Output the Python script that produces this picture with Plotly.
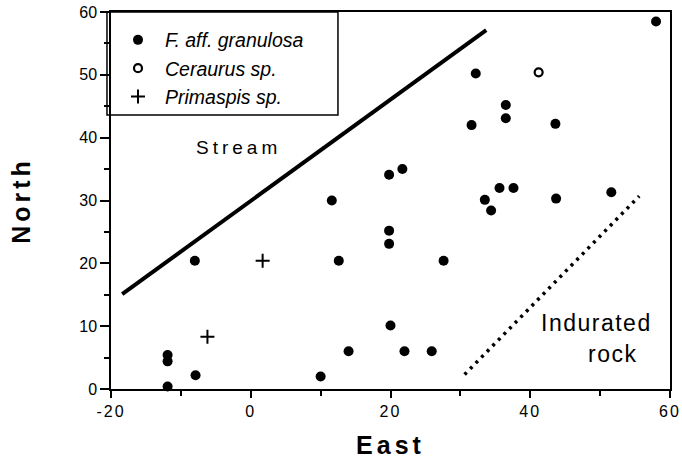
import plotly.graph_objects as go

# --- data ---
f_east = [58.0, 32.2, 36.5, 36.5, 31.6, 43.6, 19.8, 21.7, 11.6, 35.6, 37.6, 33.5,
          34.4, 43.7, 51.6, 19.8, 19.8, 12.6, 27.6, 20.0, 14.0, 22.0, 25.9, 10.0,
          -11.9, -11.9, -7.9, -11.9, -8.0]
f_north = [58.5, 50.2, 45.2, 43.1, 42.0, 42.2, 34.1, 35.0, 30.0, 32.0, 32.0, 30.1,
           28.4, 30.3, 31.3, 25.2, 23.1, 20.4, 20.4, 10.1, 6.0, 6.0, 6.0, 2.0,
           5.4, 4.4, 2.2, 0.4, 20.4]
c_east = [41.2]
c_north = [50.4]
p_east = [1.7, -6.2]
p_north = [20.4, 8.3]

stream_east = [-18.4, 33.7]
stream_north = [15.1, 57.1]
rock_east = [30.6, 55.6]
rock_north = [2.3, 30.7]

x_tickvals = [-20, 0, 20, 40, 60]
x_ticktext = ["-20", "0", "20", "40", "60"]
y_tickvals = [0, 10, 20, 30, 40, 50, 60]

FONT = "Liberation Sans, Arial, Helvetica, sans-serif"

fig = go.Figure()

fig.add_trace(go.Scatter(x=stream_east, y=stream_north, mode="lines",
                         line=dict(color="black", width=4), showlegend=False,
                         hoverinfo="skip"))
fig.add_trace(go.Scatter(x=rock_east, y=rock_north, mode="lines",
                         line=dict(color="black", width=3.5, dash="3px,5px"),
                         showlegend=False, hoverinfo="skip"))

fig.add_trace(go.Scatter(x=f_east, y=f_north, mode="markers", name="F. aff. granulosa",
                         marker=dict(symbol="circle", size=10, color="black",
                                     line=dict(width=0)), cliponaxis=False,
                         legendgroup="a"))
fig.add_trace(go.Scatter(x=c_east, y=c_north, mode="markers", name="Ceraurus sp.",
                         marker=dict(symbol="circle-open", size=8, color="black",
                                     line=dict(width=2.2)), cliponaxis=False,
                         legendgroup="b"))
fig.add_trace(go.Scatter(x=p_east, y=p_north, mode="markers", name="Primaspis sp.",
                         marker=dict(symbol="cross-thin-open", size=10, color="black",
                                     line=dict(width=2, color="black")), cliponaxis=False,
                         legendgroup="c"))

fig.add_annotation(x=-1.8, y=38.5, text='<span style="letter-spacing:4px">Stream</span>',
                   showarrow=False, font=dict(family=FONT, size=19, color="black"))
fig.add_annotation(x=49.5, y=10.5, text='<span style="letter-spacing:1.5px">Indurated</span>',
                   showarrow=False, font=dict(family=FONT, size=23, color="black"))
fig.add_annotation(x=51.8, y=5.6, text='<span style="letter-spacing:1.5px">rock</span>',
                   showarrow=False, font=dict(family=FONT, size=23, color="black"))

# legend frame
fig.add_shape(type="rect", xref="paper", yref="paper",
              x0=-0.0072, x1=0.406, y0=0.727, y1=1.0,
              line=dict(color="black", width=1.5), layer="above")

fig.update_layout(
    width=682, height=469,
    margin=dict(l=111, r=12, t=12, b=80),
    paper_bgcolor="white", plot_bgcolor="white",
    font=dict(family=FONT, color="black", size=16),
    legend=dict(
        x=0.0, y=0.977, xanchor="left", yanchor="top",
        bgcolor="rgba(0,0,0,0)", borderwidth=0,
        font=dict(family=FONT, size=19.5, style="italic"),
        tracegroupgap=0, itemwidth=44,
    ),
    xaxis=dict(
        range=[-20, 60], showgrid=False, zeroline=False, automargin=False,
        showline=True, linecolor="black", linewidth=1.5, mirror=True,
        ticks="outside", ticklen=7, tickwidth=1.5, tickcolor="black",
        tickvals=x_tickvals,
        ticktext=['<span style="letter-spacing:2px">%s</span>' % t for t in x_ticktext],
        tickfont=dict(size=16),
        minor=dict(ticks="outside", dtick=10, tick0=-20, ticklen=5, tickwidth=1.5,
                   tickcolor="black", showgrid=False),
        title=dict(text='<span style="letter-spacing:4px"><b>East</b></span>',
                   font=dict(size=25), standoff=18),
    ),
    yaxis=dict(
        range=[0, 60], showgrid=False, zeroline=False, automargin=False,
        showline=True, linecolor="black", linewidth=1.5, mirror=True,
        ticks="outside", ticklen=9, tickwidth=1.5, tickcolor="black",
        tickvals=y_tickvals, tickfont=dict(size=16),
        minor=dict(ticks="outside", dtick=5, tick0=0, ticklen=5, tickwidth=1.5,
                   tickcolor="black", showgrid=False),
        title=dict(text='<span style="letter-spacing:4px"><b>North</b></span>',
                   font=dict(size=25), standoff=42),
    ),
)

fig.write_html("out.html", config={"displayModeBar": False},
               post_script="document.body.style.margin='0';")
